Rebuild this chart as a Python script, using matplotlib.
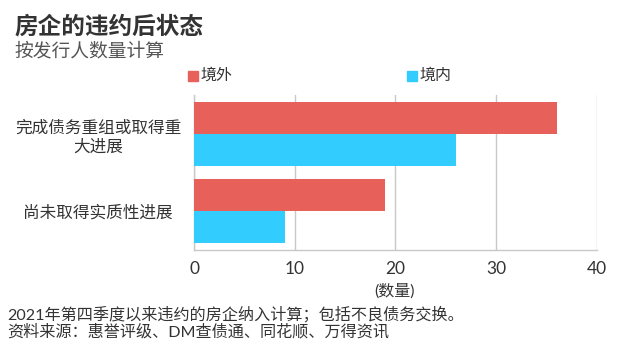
import matplotlib.pyplot as plt
from matplotlib.patches import Rectangle
import numpy as np

plt.rcParams['font.family'] = ['Lato', 'Noto Sans CJK SC', 'DejaVu Sans']

categories = ['完成债务重组或取得重\n大进展', '尚未取得实质性进展']
series_names = ['境外', '境内']
offshore = [36, 19]
onshore = [26, 9]
xticks = [0, 10, 20, 30, 40]

red = '#E8605A'
cyan = '#33CCFF'
text_col = '#333333'
grid_col = '#C8C8C8'

fig = plt.figure(figsize=(6.37, 3.51), dpi=100)
ax = fig.add_axes([0.3046, 0.2877, 0.6324, 0.4416])

y = np.arange(len(categories))
h = 0.416
ax.barh(y - h / 2, offshore, height=h, color=red, zorder=3)
ax.barh(y + h / 2, onshore, height=h, color=cyan, zorder=3)

ax.set_xlim(0, 40)
ax.set_ylim(1.506, -0.506)
ax.set_xticks(xticks)
ax.set_xticklabels([str(t) for t in xticks], fontsize=12.5, color=text_col)
ax.set_yticks(y)
ax.set_yticklabels(categories, fontsize=12, color=text_col,
                   multialignment='center', ha='center', linespacing=1.25)
ax.tick_params(axis='y', length=0, pad=69)
ax.tick_params(axis='x', length=0, pad=8)
ax.grid(axis='x', color=grid_col, linewidth=1, zorder=0)
for s in ['top', 'right']:
    ax.spines[s].set_visible(False)
for s in ['left', 'bottom']:
    ax.spines[s].set_color(grid_col)
    ax.spines[s].set_linewidth(1)

# title and subtitle
fig.text(0.022, 0.925, '房企的违约后状态', fontsize=17, fontweight='bold',
         color=text_col, va='center')
fig.text(0.022, 0.855, '按发行人数量计算', fontsize=13.5, color='#555555',
         va='center')

# legend
fig.patches.append(Rectangle((188 / 637, 1 - 81 / 351), 10 / 637, 10 / 351,
                             transform=fig.transFigure, color=red))
fig.patches.append(Rectangle((407 / 637, 1 - 81 / 351), 10 / 637, 10 / 351,
                             transform=fig.transFigure, color=cyan))
fig.text(200 / 637, 0.785, series_names[0], fontsize=11.5, color=text_col, va='center')
fig.text(419 / 637, 0.785, series_names[1], fontsize=11.5, color=text_col, va='center')

fig.text(0.62, 0.17, '(数量)', fontsize=11.5, color=text_col, ha='center', va='center')
fig.text(0.012, 0.106, '2021年第四季度以来违约的房企纳入计算；包括不良债务交换。',
         fontsize=11.6, color=text_col, va='center')
fig.text(0.012, 0.056, '资料来源：惠誉评级、DM查债通、同花顺、万得资讯',
         fontsize=11.6, color=text_col, va='center')

fig.savefig('out.png', dpi=100)
